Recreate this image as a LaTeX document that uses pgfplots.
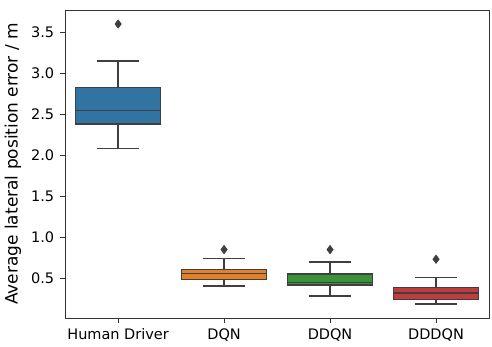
\documentclass[border=0pt]{standalone}
\usepackage{fontspec}
\setmainfont{DejaVu Sans}
\usepackage{pgfplots}
\pgfplotsset{compat=1.18}
\usepgfplotslibrary{statistics}
\definecolor{c1}{HTML}{3274A1}
\definecolor{c2}{HTML}{E1812C}
\definecolor{c3}{HTML}{3A923A}
\definecolor{c4}{HTML}{C03D3E}
\definecolor{lg}{HTML}{3F3F3F}
\begin{document}
\fontsize{14.5}{17}\selectfont
\begin{tikzpicture}
\begin{axis}[
  scale only axis, width=424pt, height=308pt,
  xmin=-0.5, xmax=3.5, ymin=0.015, ymax=3.777,
  xtick={0,1,2,3}, xticklabels={Human Driver,DQN,DDQN,DDDQN},
  ytick={0.5,1.0,1.5,2.0,2.5,3.0,3.5},
  yticklabel style={xshift=-1pt},
  y tick label style={/pgf/number format/.cd, fixed, fixed zerofill, precision=1},
  /pgf/number format/assume math mode=true,
  tick align=outside, tick pos=left,
  major tick length=4.9pt,
  every tick/.style={draw=black!80, line width=0.8pt},
  axis line style={draw=black!80, line width=0.8pt},
  xticklabel style={yshift=-1pt},
  ylabel={Average lateral position error / m},
  ylabel style={at={(ticklabel cs:0.5)}, anchor=south, yshift=0pt},
  tick label style={font=\fontsize{14.5}{17}\selectfont},
  label style={font=\fontsize{17}{20}\selectfont},
  boxplot/draw direction=y,
  boxplot/every median/.style={draw=lg, line width=1.4pt},
  boxplot/every whisker/.style={draw=lg, line width=1.4pt},
  boxplot/every box/.style={draw=lg, line width=1.4pt},
]
\addplot[boxplot prepared={draw position=0, median=2.549, upper quartile=2.833, lower quartile=2.386, upper whisker=3.155, lower whisker=2.085, box extend=0.8, whisker extend=0.4},
  fill=c1, draw=lg, line width=1.4pt, mark=diamond*, mark size=4.3pt, mark options={fill=lg, draw=lg, line width=0.5pt, solid}]
  table[row sep=\\, y index=0]{3.606\\};
\addplot[boxplot prepared={draw position=1, median=0.557, upper quartile=0.610, lower quartile=0.488, upper whisker=0.744, lower whisker=0.406, box extend=0.8, whisker extend=0.4},
  fill=c2, draw=lg, line width=1.4pt, mark=diamond*, mark size=4.3pt, mark options={fill=lg, draw=lg, line width=0.5pt, solid}]
  table[row sep=\\, y index=0]{0.85\\};
\addplot[boxplot prepared={draw position=2, median=0.450, upper quartile=0.553, lower quartile=0.415, upper whisker=0.700, lower whisker=0.284, box extend=0.8, whisker extend=0.4},
  fill=c3, draw=lg, line width=1.4pt, mark=diamond*, mark size=4.3pt, mark options={fill=lg, draw=lg, line width=0.5pt, solid}]
  table[row sep=\\, y index=0]{0.85\\};
\addplot[boxplot prepared={draw position=3, median=0.317, upper quartile=0.390, lower quartile=0.240, upper whisker=0.512, lower whisker=0.186, box extend=0.8, whisker extend=0.4},
  fill=c4, draw=lg, line width=1.4pt, mark=diamond*, mark size=4.3pt, mark options={fill=lg, draw=lg, line width=0.5pt, solid}]
  table[row sep=\\, y index=0]{0.732\\};
\end{axis}
\path ([xshift=-65pt,yshift=-26pt]current axis.south west) rectangle ([xshift=3pt,yshift=10pt]current axis.north east);
\end{tikzpicture}
\end{document}
